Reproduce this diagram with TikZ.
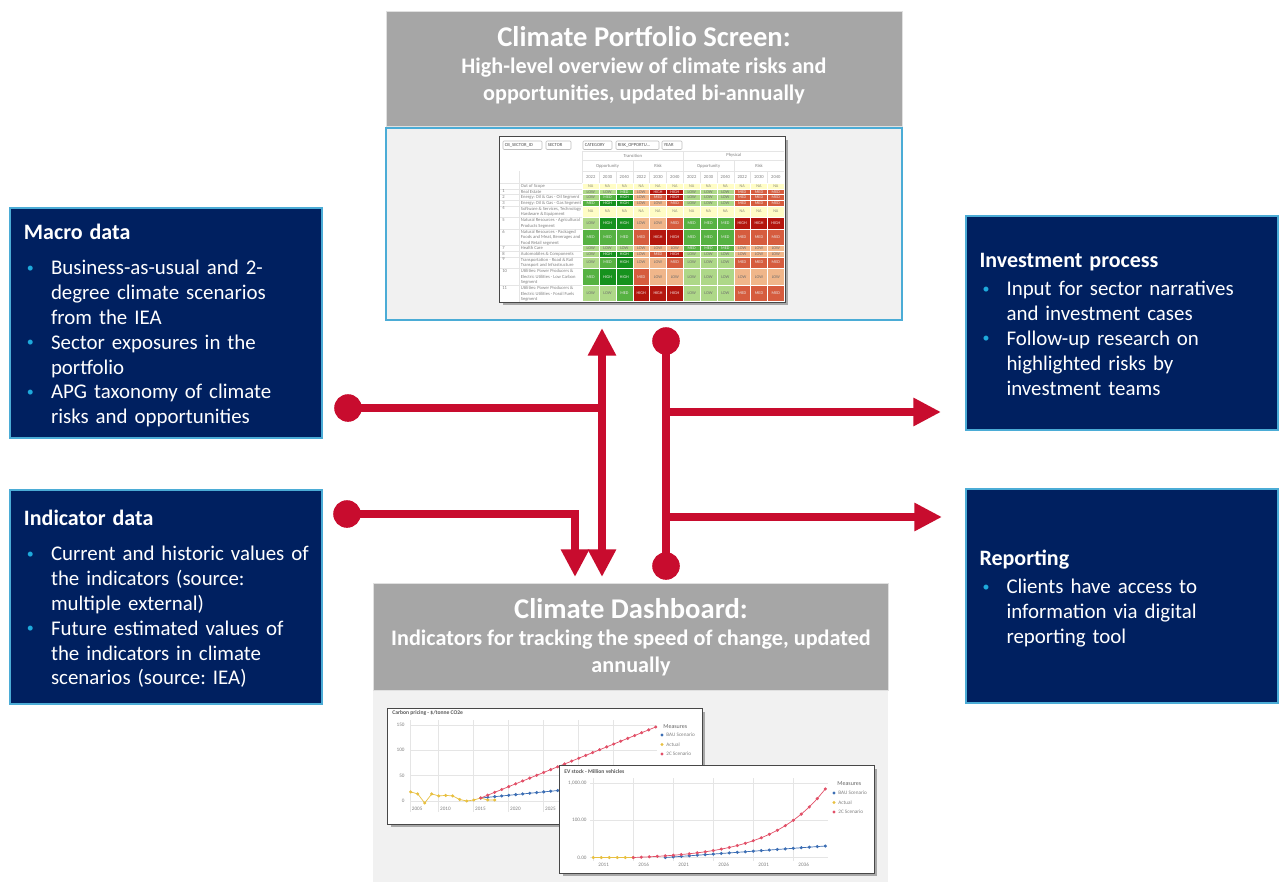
\documentclass[tikz,border=0pt]{standalone}
\usepackage{fontspec}
\setmainfont{Carlito}
\usetikzlibrary{positioning,arrows.meta,shadows}

\definecolor{navy}{RGB}{0,32,96}
\definecolor{edgeblue}{RGB}{75,172,214}
\definecolor{bulletblue}{RGB}{30,170,220}
\definecolor{flowred}{RGB}{200,12,46}
\definecolor{headgray}{RGB}{166,166,166}
\definecolor{panelgray}{RGB}{241,241,241}
\definecolor{hN0}{RGB}{255,253,198}
\definecolor{hN1}{RGB}{255,253,198}
\definecolor{hL0}{RGB}{174,216,136}
\definecolor{hM0}{RGB}{86,178,66}
\definecolor{hH0}{RGB}{22,146,30}
\definecolor{hL1}{RGB}{240,182,138}
\definecolor{hM1}{RGB}{214,92,62}
\definecolor{hH1}{RGB}{180,22,14}
\definecolor{tN}{RGB}{140,140,120}
\definecolor{tL}{RGB}{110,110,110}
\definecolor{tM}{RGB}{235,235,235}
\definecolor{tH}{RGB}{245,235,235}
\definecolor{baublue}{RGB}{60,110,180}
\definecolor{actyellow}{RGB}{232,192,64}
\definecolor{twocred}{RGB}{226,80,104}

\def\labN{NA}
\def\labL{LOW}
\def\labM{MED}
\def\labH{HIGH}

\newcommand\boxhead[1]{{\bfseries\fontsize{11pt}{12.4pt}\selectfont\rule{0pt}{12.2pt}#1}\par}
\newcommand\bul[1]{\par\lineskip=0pt\noindent\makebox[13.5pt][l]{\hspace{1.5pt}\raisebox{1.3pt}{\textcolor{bulletblue}{\fontsize{7pt}{7pt}\selectfont\textbullet}}}%
  \begin{tabular}[t]{@{}l@{}}#1\end{tabular}\par}

\begin{document}
\frenchspacing
\begin{tikzpicture}[x=0.5pt,y=-0.5pt,
    info box/.style={rectangle,fill=navy,draw=edgeblue,line width=1pt,text=white,
      minimum width=156pt,minimum height=107pt,text width=142pt,inner xsep=7pt,
      align=left,font=\fontsize{10.45pt}{12.4pt}\selectfont},
    head box/.style={rectangle,fill=headgray,draw=black!12,line width=0.5pt,inner sep=0pt},
    head text/.style={text=white,align=center,font=\bfseries\fontsize{11.1pt}{13.5pt}\selectfont},
    panel/.style={rectangle,fill=panelgray,inner sep=0pt},
    shot/.style={rectangle,fill=white,inner sep=0pt,
      drop shadow={shadow xshift=1.5pt,shadow yshift=-1.5pt,opacity=0.3,fill=black}},
    shot frame/.style={draw=black!72,line width=0.8pt},
    red dot/.style={circle,fill=flowred,minimum size=13.8pt,inner sep=0pt},
    flow/.style={draw=flowred,line width=4.2pt,line join=miter},
    flow tip/.style={-{Triangle[length=13.8pt,width=13.3pt]}},
    grid line/.style={draw=black!10,line width=0.25pt},
    tiny text/.style={inner sep=0pt,text=black!50,font=\fontsize{2.3pt}{2.8pt}\selectfont},
    name text/.style={tiny text,anchor=north west,align=left},
    cell text/.style={inner sep=0pt,font=\fontsize{2.1pt}{2.5pt}\selectfont},
    axis text/.style={inner sep=0pt,text=black!50,font=\fontsize{2.6pt}{3pt}\selectfont},
    chart title/.style={inner sep=0pt,anchor=west,text=black!65,font=\bfseries\fontsize{2.8pt}{3pt}\selectfont},
    series/.style={line width=0.35pt,mark=*,mark size=0.6pt}]

  \path[use as bounding box,fill=white] (0,0) rectangle (1284,882);

  \node[head box,minimum width=258pt,minimum height=57.5pt] (portHead) at (644,69.5) {};
  \node[panel,draw=edgeblue,line width=1pt,minimum width=258pt,minimum height=95.5pt,below=0pt of portHead] (portPanel) {};
  \node[head text] (portTxt) at (644,65)
    {{\fontsize{14.3pt}{13.5pt}\selectfont Climate Portfolio Screen:}\\
     High-level overview of climate risks and\\opportunities, updated bi-annually};

  \node[head box,minimum width=257.5pt,minimum height=53.5pt] (dashHead) at (630.5,636.5) {};
  \node[panel,minimum width=257.5pt,minimum height=96pt,below=0pt of dashHead] (dashPanel) {};
  \node[head text] (dashTxt) at (631,637)
    {{\fontsize{14.3pt}{13.5pt}\selectfont Climate Dashboard:}\\
     Indicators for tracking the speed of change, updated\\annually};

  \node[shot,minimum width=142.5pt,minimum height=82.5pt] (heat) at (642.5,219.5) {};
  \begin{scope}
    \clip (heat.north west) rectangle (heat.south east);
    \foreach \xa/\xb/\btn in {503/542/{CB\_SECTOR\_ID},546/571/SECTOR,583/612/CATEGORY,616/659/{RISK\_OPPORTU...},662/682/YEAR}{
      \draw[black!25,line width=0.3pt,rounded corners=0.5pt] (\xa,141) rectangle (\xb,149.5);
      \node[tiny text,anchor=west,text=black!70] (btn-\xa) at (\xa+1.5,145.3) {\btn};
    }
    \draw[grid line] (582.3,151) -- (784.3,151);
    \draw[grid line] (582.3,160.5) -- (784.3,160.5);
    \draw[grid line] (582.3,171.5) -- (784.3,171.5);
    \draw[grid line] (500,183.3) -- (784.3,183.3);
    \draw[grid line] (582.3,151) -- (582.3,183.3);
    \draw[grid line] (683.3,151) -- (683.3,183.3);
    \draw[grid line] (519,171.5) -- (519,302);
    \foreach \k in {1,...,11}
      \draw[grid line] ({582.3+16.83*\k},171.5) -- ({582.3+16.83*\k},183.3);
    \draw[grid line] (632.8,160.5) -- (632.8,171.5);
    \draw[grid line] (734,160.5) -- (734,171.5);
    \node[tiny text] (tTrans) at (632.8,155.7) {Transition};
    \node[tiny text] (tPhys) at (733.8,155.7) {Physical};
    \foreach \xc/\grp [count=\g] in {607.5/Opportunity,658/Risk,708.6/Opportunity,759/Risk}
      \node[tiny text] (grp-\g) at (\xc,166) {\grp};
    \foreach \yr [count=\k] in {2022,2030,2040,2022,2030,2040,2022,2030,2040,2022,2030,2040}
      \node[tiny text] (yr-\k) at ({582.3+16.83*(\k-0.5)},177.4) {\yr};

    \foreach \ya/\idx/\sector in {
        183.3//{Out of Scope},
        189/1/{Real Estate},
        194.7/2/{Energy: Oil \& Gas - Oil Segment},
        200.3/3/{Energy: Oil \& Gas - Gas Segment},
        206/4/{Software \& Services, Technology\\Hardware \& Equipment},
        217.3/5/{Natural Resources - Agricultural\\Products Segment},
        229/6/{Natural Resources - Packaged\\Foods and Meat, Beverages and\\Food Retail segment},
        245.7/7/{Health Care},
        251.3/8/{Automobiles \& Components},
        257/9/{Transportation - Road \& Rail\\Transport and Infrastructure},
        268.3/10/{Utilities: Power Producers \&\\Electric Utilities - Low Carbon\\Segment},
        285.3/11/{Utilities: Power Producers \&\\Electric Utilities - Fossil Fuels\\Segment}}{
      \draw[grid line] (500,\ya) -- (582.3,\ya);
      \node[name text] (idx-\idx) at (502,\ya+0.6) {\idx};
      \node[name text] (sec-\idx) at (520.5,\ya+0.6) {\sector};
    }

    \foreach \ya/\yb/\lvls [count=\row] in {
        183.3/189/{N,N,N,N,N,N,N,N,N,N,N,N},
        189/194.7/{L,L,M,L,H,H,L,L,L,M,M,M},
        194.7/200.3/{L,M,H,L,M,H,L,L,L,M,M,M},
        200.3/206/{M,H,H,L,L,M,L,L,L,M,M,M},
        206/217.3/{N,N,N,N,N,N,N,N,N,N,N,N},
        217.3/229/{L,H,H,L,L,M,M,M,M,H,H,H},
        229/245.7/{M,M,M,M,H,H,M,M,M,M,M,M},
        245.7/251.3/{L,L,L,L,L,L,M,M,M,L,L,L},
        251.3/257/{L,H,H,L,M,H,L,L,L,L,L,L},
        257/268.3/{L,M,H,L,L,M,L,L,L,M,M,M},
        268.3/285.3/{M,H,H,M,L,L,L,L,L,L,L,L},
        285.3/301.7/{L,L,M,H,H,H,L,L,L,M,M,M}}{
      \foreach \lvl [count=\col] in \lvls {
        \pgfmathsetmacro\xa{582.3+16.83*(\col-1)}
        \pgfmathtruncatemacro\grp{mod(floor((\col-1)/3),2)}
        \fill[h\lvl\grp,draw=white,line width=0.25pt] (\xa,\ya) rectangle ++(16.83,\yb-\ya);
        \node[cell text,text=t\lvl] (cell-\row-\col) at ({\xa+8.4},{(\ya+\yb)/2}) {\csname lab\lvl\endcsname};
      }
    }
  \end{scope}
  \draw[shot frame] (heat.north west) rectangle (heat.south east);

  \node[shot,minimum width=157pt,minimum height=57.5pt] (carbon) at (545,766.5) {};
  \node[chart title] (carbonTitle) at (392,713.5) {Carbon pricing - \$/tonne CO2e};
  \foreach \v in {0,50,100,150}{
    \draw[grid line] (410,{801-0.507*\v}) -- (657,{801-0.507*\v});
    \node[axis text,anchor=east] (cy-\v) at (405,{801-0.507*\v}) {\v};
  }
  \foreach \yr [count=\k from 0] in {2010,2015,2020,2025,2030,2035}{
    \draw[grid line] ({438.3+35*\k},720) -- ({438.3+35*\k},812);
    \node[axis text,anchor=west] (cx-\yr) at ({439.8+35*\k},808.5) {\yr};
  }
  \draw[grid line] (410,720) -- (410,812);
  \node[axis text,anchor=west] (cx-2005) at (411.5,808.5) {2005};
  \draw[series,color=baublue] plot[domain=10:35,samples=26] ({410.7+7*\x},{798-17*(\x-10)/25});
  \draw[series,color=actyellow] plot coordinates {(410.7,791.9) (417.7,793.9) (424.7,803) (431.7,793.9)
    (438.7,795.9) (445.7,795.4) (452.7,795.9) (459.7,799.5) (466.7,801) (473.7,800) (480.7,798)
    (487.7,800) (494.7,800)};
  \draw[series,color=twocred] plot[domain=10:35,samples=26] ({410.7+7*\x},{798-71*(\x-10)/25});
  \node[axis text,anchor=west,text=black!60,font=\fontsize{3pt}{3pt}\selectfont] (cMeas) at (663,726.5) {Measures};
  \foreach \c/\lab [count=\k from 0] in {baublue/BAU Scenario,actyellow/Actual,twocred/2C Scenario}{
    \fill[\c] (662,{735+9.5*\k}) circle[radius=0.8pt];
    \node[axis text,anchor=west] (cLeg-\k) at (666,{735+9.5*\k}) {\lab};
  }
  \draw[shot frame] (carbon.north west) rectangle (carbon.south east);

  \node[shot,minimum width=157pt,minimum height=53.5pt] (evstock) at (717,819.5) {};
  \node[chart title] (evTitle) at (564,771.5) {EV stock - Million vehicles};
  \foreach \yy/\lab in {783/{1,000.00},820/100.00,857.5/0.00}{
    \draw[grid line] (590,\yy) -- (828,\yy);
    \node[axis text,anchor=east] (ey-\yy) at (587,\yy) {\lab};
  }
  \foreach \yr [count=\k from 0] in {2011,2016,2021,2026,2031,2036}{
    \draw[grid line] ({593.3+40*\k},778) -- ({593.3+40*\k},861);
    \node[axis text,anchor=west] (ex-\yr) at ({598+40*\k},864.5) {\yr};
  }
  \draw[series,color=actyellow] plot[domain=0:5,samples=6] ({593.3+8*\x},857.5);
  \draw[series,color=baublue] plot[domain=9:29,samples=21] ({593.3+8*\x},{857.5-11.5*(\x-9)/20});
  \draw[series,color=twocred] plot[domain=5:29,samples=25] ({593.3+8*\x},{857.5-2.09*(exp(3.52*(\x-5)/24)-1)});
  \node[axis text,anchor=west,text=black!60,font=\fontsize{3pt}{3pt}\selectfont] (eMeas) at (837,783.5) {Measures};
  \foreach \c/\lab [count=\k from 0] in {baublue/BAU Scenario,actyellow/Actual,twocred/2C Scenario}{
    \fill[\c] (834,{793+9.5*\k}) circle[radius=0.8pt];
    \node[axis text,anchor=west] (eLeg-\k) at (838,{793+9.5*\k}) {\lab};
  }
  \draw[shot frame] (evstock.north west) rectangle (evstock.south east);

  \node[info box] (macro) at (166,323) {%
    \boxhead{Macro data}\vspace{5.5pt}
    \bul{Business-as-usual and 2-\\degree climate scenarios\\from the IEA}
    \bul{Sector exposures in the\\portfolio}
    \bul{APG taxonomy of climate\\risks and opportunities}};
  \node[info box] (indicator) at (166,596.5) {%
    \boxhead{Indicator data}\vspace{5.5pt}
    \bul{Current and historic values of\\the indicators (source:\\multiple external)}
    \bul{Future estimated values of\\the indicators in climate\\scenarios (source: IEA)}};
  \node[info box] (invest) at (1121.5,323) {%
    \boxhead{Investment process}\vspace{1.6pt}
    \bul{Input for sector narratives\\and investment cases}
    \bul{Follow-up research on\\highlighted risks by\\investment teams}};
  \node[info box] (report) at (1121.5,596) {%
    \boxhead{Reporting}\vspace{1.6pt}
    \bul{Clients have access to\\information via digital\\reporting tool}};

  \node[red dot] (dotM) at (348,408) {};
  \node[red dot] (dotI) at (347,514) {};
  \node[red dot] (dotT) at (666,341) {};
  \node[red dot] (dotB) at (666,566) {};
  \coordinate (upTip) at (602,328);
  \coordinate (downTip) at (602,577);
  \coordinate (inTip) at (575,577);
  \coordinate (outA) at (941,412);
  \coordinate (outB) at (942,517);

  \draw[flow] (dotM.center) -- (dotM.center -| upTip);
  \draw[flow,{Triangle[length=13.8pt,width=13.3pt]}-{Triangle[length=13.8pt,width=13.3pt]}] (downTip) -- (upTip);
  \draw[flow,flow tip] (dotI.center) -| (inTip);
  \draw[flow] (dotT.center) -- (dotB.center);
  \draw[flow,flow tip] (dotT.center |- outA) -- (outA);
  \draw[flow,flow tip] (dotB.center |- outB) -- (outB);

\end{tikzpicture}
\end{document}
